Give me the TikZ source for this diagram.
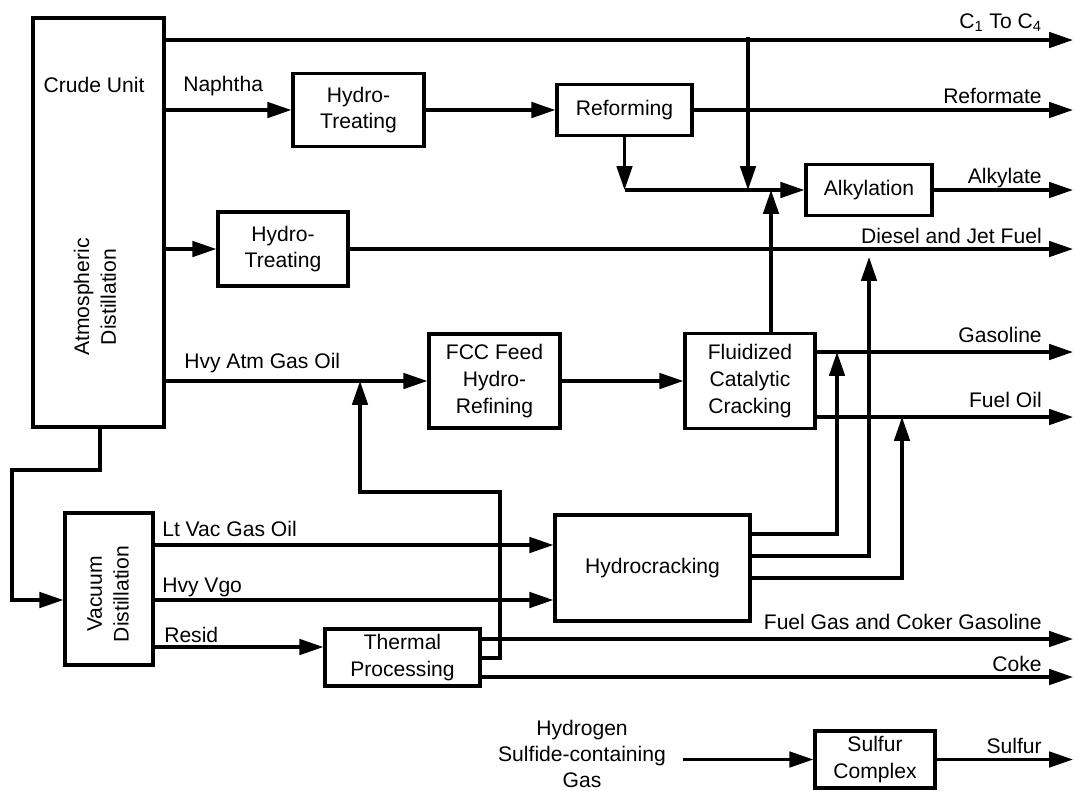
\documentclass[tikz,border=0pt]{standalone}
\usepackage{fontspec}
\setmainfont{Liberation Sans}
\usetikzlibrary{arrows.meta}

\begin{document}
\begin{tikzpicture}[x=0.025cm, y=-0.025cm,
  font=\fontsize{15}{19}\selectfont,
  proc/.style={rectangle, draw, line width=2.3pt, align=center, inner sep=0pt},
  stream/.style={line width=2.3pt, -{Triangle[length=17pt,width=11pt]}},
  inlbl/.style={anchor=base west, inner sep=0pt},
  outlbl/.style={anchor=base east, inner sep=0pt}]
  \useasboundingbox (0,0) rectangle (1076,790);

  % process units
  \node[proc, minimum width=3.275cm, minimum height=10.225cm] (crude) at (98.5,222.5) {};
  \node (crudetxt) at (94,85) {Crude Unit};
  \node[rotate=90, align=center] (atmtxt) at (95,297) {Atmospheric\\Distillation};
  \node[proc, minimum width=3.275cm, minimum height=1.825cm] (ht1) at (358.5,110) {Hydro-\\Treating};
  \node[proc, minimum width=3.375cm, minimum height=1.275cm] (reform) at (624.5,110) {Reforming};
  \node[proc, minimum width=3.15cm, minimum height=1.275cm] (alky) at (869,190) {Alkylation};
  \node[proc, minimum width=3.25cm, minimum height=1.85cm] (ht2) at (283,249) {Hydro-\\Treating};
  \node[proc, minimum width=3.275cm, minimum height=2.35cm] (fccfeed) at (494.5,381) {FCC Feed\\Hydro-\\Refining};
  \node[proc, minimum width=3.25cm, minimum height=2.375cm] (fcc) at (750,381) {Fluidized\\Catalytic\\Cracking};
  \node[proc, minimum width=4.875cm, minimum height=2.65cm] (hcr) at (652.5,568) {Hydrocracking};
  \node[proc, minimum width=2.2cm, minimum height=3.8cm] (vac) at (109,589) {};
  \node[rotate=90, align=center] (vactxt) at (108,594) {Vacuum\\Distillation};
  \node[proc, minimum width=3.875cm, minimum height=1.425cm] (thermal) at (402.5,657.5) {Thermal\\Processing};
  \node[proc, minimum width=3cm, minimum height=1.425cm] (sulfur) at (875,759.5) {Sulfur\\Complex};
  \node[align=center, font=\fontsize{15}{18.5}\selectfont] (h2s) at (582,754) {Hydrogen\\Sulfide-containing\\Gas};

  % stream ends and bends
  \coordinate (c1) at (1073,40);
  \coordinate (gas) at (1073,352);
  \coordinate (fo) at (1073,417);
  \coordinate (fg) at (1073,639);
  \coordinate (coke) at (1073,677);
  \coordinate (jn1) at (748,37);
  \coordinate (up1) at (771,190);
  \coordinate (hx1) at (837,534);
  \coordinate (hx2) at (869,556);
  \coordinate (hx3) at (902,578);
  \coordinate (v1) at (100,470);
  \coordinate (v2) at (12,470);
  \coordinate (v3) at (12,600);
  \coordinate (lv) at (300,545);
  \coordinate (hv) at (300,600);
  \coordinate (rs) at (300,647);
  \coordinate (rc1) at (500,658);
  \coordinate (rc2) at (360,492);
  \coordinate (h2sout) at (683,759.5);

  % streams
  \draw[stream] (crude.east |- c1) -- (c1);
  \draw[stream] (crude.east |- ht1.west) -- (ht1.west);
  \draw[stream] (ht1.east) -- (reform.west);
  \draw[stream] (reform.east) -- (reform.east -| c1);
  \draw[stream] (reform.south) -- (reform.south |- alky.west);
  \draw[stream] (reform.south |- alky.west) -- (alky.west);
  \draw[stream] (jn1) -- (jn1 |- alky.west);
  \draw[stream] (fcc.north -| up1) -- (up1);
  \draw[stream] (alky.east) -- (alky.east -| c1);
  \draw[stream] (crude.east |- ht2.west) -- (ht2.west);
  \draw[stream] (ht2.east) -- (ht2.east -| c1);
  \draw[stream] (crude.east |- fccfeed.west) -- (fccfeed.west);
  \draw[stream] (fccfeed.east) -- (fcc.west);
  \draw[stream] (fcc.east |- gas) -- (gas);
  \draw[stream] (fcc.east |- fo) -- (fo);
  \draw[stream] (hcr.east |- hx1) -- (hx1) -- (hx1 |- gas);
  \draw[stream, shorten >=0.2cm] (hcr.east |- hx2) -- (hx2) -- (hx2 |- ht2.east);
  \draw[stream] (hcr.east |- hx3) -- (hx3) -- (hx3 |- fo);
  \draw[stream] (crude.south -| v1) -- (v1) -- (v2) -- (v3) -- (vac.west |- v3);
  \draw[stream] (vac.east |- lv) -- (hcr.west |- lv);
  \draw[stream] (vac.east |- hv) -- (hcr.west |- hv);
  \draw[stream] (vac.east |- rs) -- (thermal.west |- rs);
  \draw[stream] (thermal.east |- fg) -- (fg);
  \draw[stream] (thermal.east |- coke) -- (coke);
  \draw[stream] (thermal.east |- rc1) -- (rc1) -- (rc1 |- rc2) -- (rc2) -- (rc2 |- fccfeed.west);
  \draw[stream] (h2sout) -- (sulfur.west);
  \draw[stream] (sulfur.east) -- (sulfur.east -| c1);

  % stream labels
  \node[inlbl] (lnap) at (183,91) {Naphtha};
  \node[inlbl] (lhago) at (184,368) {Hvy Atm Gas Oil};
  \node[inlbl] (llvgo) at (162,536) {Lt Vac Gas Oil};
  \node[inlbl] (lhvgo) at (162,592) {Hvy Vgo};
  \node[inlbl] (lresid) at (164,642) {Resid};
  \node[outlbl] (lc1) at (1042,28) {C\textsubscript{1} To C\textsubscript{4}};
  \node[outlbl] (lref) at (1042,103) {Reformate};
  \node[outlbl] (lalk) at (1042,183) {Alkylate};
  \node[outlbl] (ldsl) at (1042,243) {Diesel and Jet Fuel};
  \node[outlbl] (lgas) at (1042,342) {Gasoline};
  \node[outlbl] (lfo) at (1042,407) {Fuel Oil};
  \node[outlbl] (lfg) at (1042,629) {Fuel Gas and Coker Gasoline};
  \node[outlbl] (lcoke) at (1042,671) {Coke};
  \node[outlbl] (lsul) at (1042,753) {Sulfur};
\end{tikzpicture}
\end{document}
